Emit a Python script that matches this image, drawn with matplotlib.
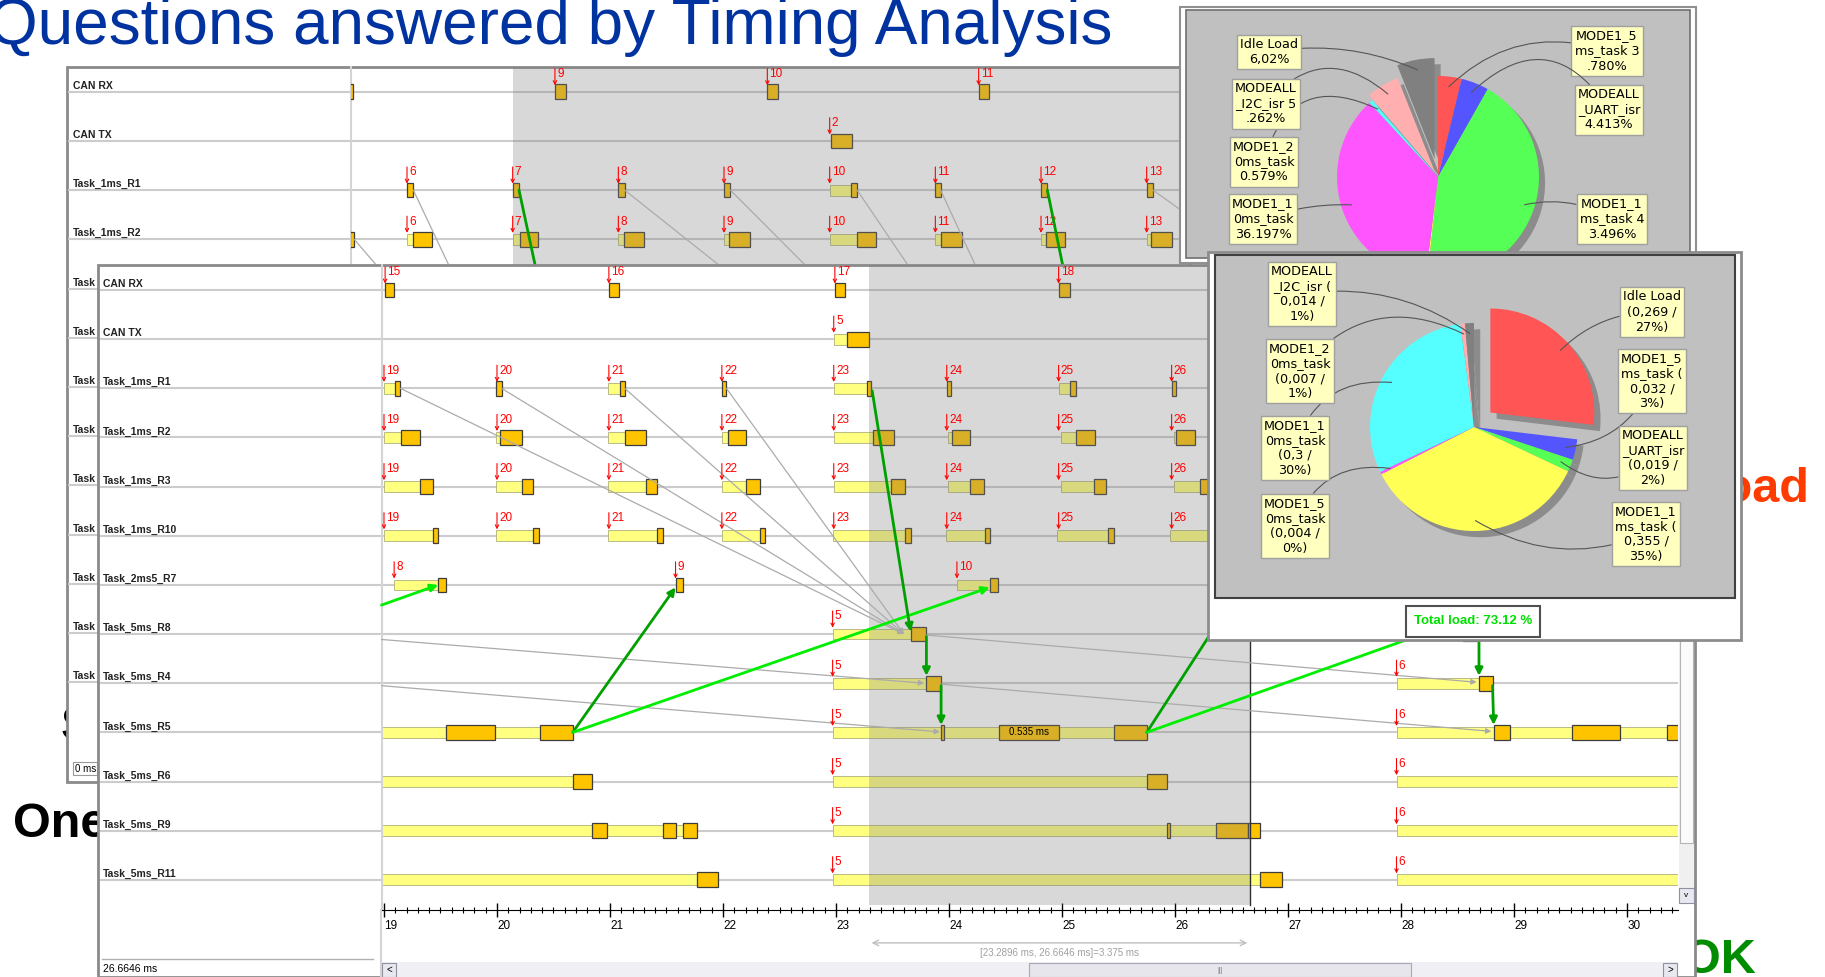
import numpy as np
import matplotlib
matplotlib.use('Agg')
import matplotlib.pyplot as plt
from matplotlib.patches import Rectangle
from matplotlib.ticker import MultipleLocator

W, H = 1825, 977
plt.rcParams['font.family'] = ['Liberation Sans', 'DejaVu Sans']

# ---------------- data ----------------
rows = ['CAN RX', 'CAN TX', 'Task_1ms_R1', 'Task_1ms_R2', 'Task_1ms_R3',
        'Task_1ms_R10', 'Task_2ms5_R7', 'Task_5ms_R8', 'Task_5ms_R4',
        'Task_5ms_R5', 'Task_5ms_R6', 'Task_5ms_R9', 'Task_5ms_R11']
# back window: only the start of the lower row names shows beside the front window
back_labels = rows[:4] + ['Task'] * 9

# front trace window, time in ms
front_ticks = list(range(19, 31))
sel_start, sel_end = 23.2896, 26.6646
act_1ms_t = [19.0, 20.0, 20.99, 21.99, 22.98, 23.98, 24.97, 25.97]
act_1ms_n = ['19', '20', '21', '22', '23', '24', '25', '26']
front_act = [(0, '15', 19.01), (0, '16', 20.99), (0, '17', 22.99), (0, '18', 24.97),
             (1, '5', 22.98),
             (6, '8', 19.09), (6, '9', 21.58), (6, '10', 24.07),
             (7, '5', 22.97), (8, '5', 22.97), (8, '6', 27.96),
             (9, '5', 22.97), (9, '6', 27.96), (10, '5', 22.97), (10, '6', 27.96),
             (11, '5', 22.97), (11, '6', 27.96), (12, '5', 22.97), (12, '6', 27.96)]
front_act += [(r, n, t) for r in (2, 3, 4, 5) for n, t in zip(act_1ms_n, act_1ms_t)]

# (row, start, end) waiting (light) and running (box) segments
front_wait = [(1, 22.98, 23.10),
              (2, 19.0, 19.10), (2, 20.98, 21.09), (2, 22.98, 23.27), (2, 24.97, 25.07),
              (3, 19.0, 19.15), (3, 19.99, 20.03), (3, 20.98, 21.13), (3, 21.99, 22.04),
              (3, 22.98, 23.33), (3, 23.99, 24.03), (3, 24.99, 25.12), (3, 25.99, 26.01),
              (4, 19.0, 19.32), (4, 19.99, 20.22), (4, 20.98, 21.32), (4, 21.99, 22.20),
              (4, 22.98, 23.49), (4, 23.99, 24.19), (4, 24.99, 25.28), (4, 25.99, 26.22),
              (5, 19.0, 19.43), (5, 19.99, 20.32), (5, 20.98, 21.42), (5, 21.99, 22.33),
              (5, 22.97, 23.61), (5, 23.97, 24.32), (5, 24.96, 25.41), (5, 25.96, 26.50),
              (6, 19.09, 19.48), (6, 24.07, 24.36), (6, 29.05, 29.35),
              (7, 22.97, 23.66), (7, 27.96, 28.55),
              (8, 22.97, 23.80), (8, 27.96, 28.69),
              (9, 18.97, 19.55), (9, 19.98, 20.38), (9, 22.97, 23.93), (9, 23.96, 24.44),
              (9, 24.97, 25.46), (9, 27.96, 28.82), (9, 28.96, 29.51), (9, 29.94, 30.35),
              (10, 18.97, 20.67), (10, 22.97, 25.75), (10, 27.96, 30.5),
              (11, 18.97, 20.84), (11, 20.97, 21.47), (11, 21.58, 21.65), (11, 22.97, 25.93),
              (11, 25.96, 26.36), (11, 27.96, 30.5),
              (12, 18.97, 21.77), (12, 22.97, 26.75), (12, 27.96, 30.5)]
front_run = [(0, 19.01, 19.09), (0, 20.99, 21.08), (0, 22.99, 23.08), (0, 24.97, 25.07),
             (1, 23.10, 23.29),
             (2, 19.10, 19.145), (2, 19.99, 20.04), (2, 21.09, 21.13), (2, 21.99, 22.03),
             (2, 23.27, 23.31), (2, 23.98, 24.02), (2, 25.07, 25.12), (2, 25.97, 26.01),
             (3, 19.15, 19.32), (3, 20.03, 20.22), (3, 21.13, 21.32), (3, 22.04, 22.20),
             (3, 23.33, 23.51), (3, 24.03, 24.19), (3, 25.12, 25.29), (3, 26.01, 26.18),
             (4, 19.32, 19.43), (4, 20.22, 20.32), (4, 21.32, 21.42), (4, 22.20, 22.33),
             (4, 23.49, 23.61), (4, 24.19, 24.31), (4, 25.28, 25.39), (4, 26.22, 26.33),
             (5, 19.43, 19.48), (5, 20.32, 20.37), (5, 21.42, 21.47), (5, 22.33, 22.37),
             (5, 23.61, 23.66), (5, 24.32, 24.36), (5, 25.41, 25.46), (5, 26.50, 26.55),
             (6, 19.48, 19.55), (6, 21.58, 21.65), (6, 24.36, 24.43), (6, 26.58, 26.65),
             (6, 29.35, 29.42),
             (7, 23.66, 23.80), (7, 28.55, 28.69),
             (8, 23.80, 23.93), (8, 28.69, 28.81),
             (9, 19.55, 19.98), (9, 20.38, 20.67), (9, 23.93, 23.96), (9, 24.44, 24.97),
             (9, 25.46, 25.75), (9, 28.82, 28.96), (9, 29.51, 29.94), (9, 30.35, 30.5),
             (10, 20.67, 20.84), (10, 25.75, 25.93),
             (11, 20.84, 20.97), (11, 21.47, 21.58), (11, 21.65, 21.77), (11, 25.93, 25.96),
             (11, 26.36, 26.65), (11, 26.65, 26.75),
             (12, 21.77, 21.96), (12, 26.75, 26.95)]
# (t0, row0, t1, row1) data-flow links
front_grey = [(19.145, 2, 23.6, 7), (20.04, 2, 23.6, 7), (21.13, 2, 23.6, 7), (22.03, 2, 23.6, 7),
              (18.978, 7.11, 23.78, 8.0), (18.978, 8.05, 23.92, 8.99),
              (23.80, 7.02, 28.67, 7.98), (23.93, 8.02, 28.80, 8.98)]
front_green = [(18.978, 6.41, 19.48, 6.0, True), (20.67, 9, 21.58, 6.05, False),
               (20.67, 9, 24.36, 6.05, True), (23.32, 2.05, 23.66, 6.95, False),
               (23.80, 7.05, 23.80, 7.85, False), (23.93, 8.05, 23.93, 8.85, False),
               (25.75, 9, 26.58, 6.05, False), (25.75, 9, 29.35, 6.05, True),
               (28.69, 7.05, 28.69, 7.85, False), (28.81, 8.05, 28.82, 8.85, False)]

# back trace window
back_act = [(0, '9', 7.40), (0, '10', 9.41), (0, '11', 11.41), (1, '2', 10.0)]
back_act += [(r, str(n), float(n)) for r in (2, 3) for n in range(6, 14)]
back_wait = [(2, 10.0, 10.20),
             (3, 6.0, 6.06), (3, 7.0, 7.07), (3, 8.0, 8.05), (3, 9.0, 9.05), (3, 10.0, 10.26),
             (3, 11.0, 11.05), (3, 12.0, 12.05), (3, 13.0, 13.04)]
back_run = [(0, 5.45, 5.49), (0, 7.40, 7.50), (0, 9.41, 9.51), (0, 11.41, 11.51),
            (1, 10.01, 10.21),
            (2, 6.0, 6.06), (2, 7.0, 7.06), (2, 8.0, 8.06), (2, 9.0, 9.06), (2, 10.20, 10.26),
            (2, 11.0, 11.05), (2, 12.0, 12.06), (2, 13.0, 13.06),
            (3, 5.46, 5.50), (3, 6.06, 6.24), (3, 7.07, 7.24), (3, 8.05, 8.24), (3, 9.05, 9.25),
            (3, 10.26, 10.44), (3, 11.05, 11.25), (3, 12.05, 12.23), (3, 13.04, 13.24)]
back_grey = [(6.06, 2, 6.50, 4), (5.50, 3, 5.90, 4), (8.06, 2, 9.23, 4), (9.06, 2, 9.99, 4),
             (10.26, 2, 10.89, 4), (11.05, 2, 11.48, 4), (13.06, 2, 14.36, 4)]
back_green = [(7.06, 2, 7.26, 4, False), (12.06, 2, 12.25, 4, False)]
back_sel = 7.0

# pie charts
pal = ['#FF5555', '#5555FF', '#55FF55', '#FFFF55', '#FF55FF', '#55FFFF', '#FFAFAF', '#808080']
pie1_pct = [3.780, 4.413, 43.496, 0.253, 36.197, 0.579, 5.262, 6.02]
pie1_txt = ['MODE1_5\nms_task 3\n.780%', 'MODEALL\n_UART_isr\n4.413%', 'MODE1_1\nms_task 4\n3.496%',
            None, 'MODE1_1\n0ms_task\n36.197%', 'MODE1_2\n0ms_task\n0.579%',
            'MODEALL\n_I2C_isr 5\n.262%', 'Idle Load\n6,02%']
pie2_val = [0.269, 0.032, 0.019, 0.355, 0.004, 0.3, 0.007, 0.014]
pie2_txt = ['Idle Load\n(0,269 /\n27%)', 'MODE1_5\nms_task (\n0,032 /\n3%)',
            'MODEALL\n_UART_isr\n(0,019 /\n2%)', 'MODE1_1\nms_task (\n0,355 /\n35%)',
            'MODE1_5\n0ms_task\n(0,004 /\n0%)', 'MODE1_1\n0ms_task\n(0,3 /\n30%)',
            'MODE1_2\n0ms_task\n(0,007 /\n1%)', 'MODEALL\n_I2C_isr (\n0,014 /\n1%)']
total_load = 73.12

# ---------------- drawing ----------------
fig = plt.figure(figsize=(W / 100, H / 100), dpi=100)


def layer(z):
    ax = fig.add_axes([0, 0, 1, 1], zorder=z)
    ax.set_xlim(0, W)
    ax.set_ylim(H, 0)
    ax.axis('off')
    return ax


def px_axes(x0, y0, x1, y1, z):
    return fig.add_axes([x0 / W, 1 - y1 / H, (x1 - x0) / W, (y1 - y0) / H], zorder=z)


def rect(ax, x0, y0, x1, y1, **kw):
    ax.add_patch(Rectangle((x0, y0), x1 - x0, y1 - y0, **kw))


def gantt(ax, labels, acts, waits, runs, greys, greens, line_x, text_x):
    ax.set_facecolor('none')
    tr = ax.get_yaxis_transform()
    ax.hlines(range(len(labels)), line_x, 1, transform=tr, colors='#cccccc', lw=1.5,
              clip_on=False, zorder=1)
    for i, name in enumerate(labels):
        ax.text(text_x, i - 0.06, name, transform=tr, fontsize=7.5, fontweight='bold',
                color='#222222', va='baseline', ha='left', clip_on=False)
    r, a, b = zip(*waits)
    ax.barh(r, np.subtract(b, a), left=a, height=0.22, color='#ffff80',
            edgecolor='#b0b07a', lw=0.6, zorder=2)
    r, a, b = zip(*runs)
    ax.barh(r, np.subtract(b, a), left=a, height=0.3, color='#ffc400',
            edgecolor='#3c3c3c', lw=0.9, zorder=3)
    for row, lab, t in acts:
        ax.annotate('', xy=(t, row - 0.13), xytext=(t, row - 0.47),
                    arrowprops=dict(arrowstyle='->', color='red', lw=0.8, shrinkA=0,
                                    shrinkB=0, mutation_scale=6), zorder=6)
        ax.text(t + 0.02, row - 0.36, lab, color='red', fontsize=8.5, va='center',
                ha='left', zorder=6)
    for t0, r0, t1, r1 in greys:
        ax.annotate('', xy=(t1, r1), xytext=(t0, r0), annotation_clip=False,
                    arrowprops=dict(arrowstyle='-|>', color='#ababab', lw=0.9, shrinkA=0,
                                    shrinkB=0, mutation_scale=8), zorder=5)
    for t0, r0, t1, r1, bright in greens:
        ax.annotate('', xy=(t1, r1), xytext=(t0, r0), annotation_clip=False,
                    arrowprops=dict(arrowstyle='-|>', color='#00ee00' if bright else '#00a000',
                                    lw=2, shrinkA=0, shrinkB=0, mutation_scale=11), zorder=7)
    ax.set_yticks([])
    for s in ('top', 'right'):
        ax.spines[s].set_visible(False)
    ax.spines['left'].set_color('#d4d4d4')
    ax.spines['left'].set_linewidth(1.5)


# base slide text
base = layer(0)
base.text(-12, 44, 'Questions answered by Timing Analysis', fontsize=46, color='#0033a0',
          va='baseline', ha='left')
base.text(61, 740, 'S', fontsize=35, fontweight='bold', va='baseline')
base.text(13, 837, 'One', fontsize=35, fontweight='bold', va='baseline')
base.text(1810, 502, 'Load', fontsize=35, fontweight='bold', color='#ff3c00',
          va='baseline', ha='right')
base.text(1683, 973, 'OK', fontsize=35, fontweight='bold', color='#008c00', va='baseline')

# back window
cb = layer(1)
rect(cb, 67, 67, 1190, 782, fc='white', ec='#8a8a8a', lw=2)
rect(cb, 73, 762, 97, 775, fc='white', ec='#9a9a9a', lw=0.8)
cb.text(75, 769, '0 ms', fontsize=7, va='center')

axb = px_axes(351, 67, 1190, 782, 2)
axb.set_xlim(5.47, 13.41)
axb.set_ylim(14.03, -0.502)
gantt(axb, back_labels, back_act, back_wait, back_run, back_grey, back_green, -0.3373, -0.3317)
axb.axvspan(back_sel, 13.41, color='#7f7f7f', alpha=0.3, lw=0, zorder=4)
axb.spines['bottom'].set_visible(False)
axb.set_xticks([])

# front window
cf = layer(3)
rect(cf, 98, 265, 1695, 977, fc='white', ec='#8a8a8a', lw=2)
cf.plot([381.5, 381.5], [910, 977], color='#d4d4d4', lw=1.5)
cf.plot([102, 373], [959, 959], color='#b0b0b0', lw=1)
cf.text(103, 969, '26.6646 ms', fontsize=7.5, va='center')
rect(cf, 1679, 265, 1694, 903, fc='#f0f0f0', ec='none')
rect(cf, 1680, 266, 1693, 843, fc='#fbfbfb', ec='#b4b4b4', lw=0.8)
rect(cf, 1679, 888, 1694, 903, fc='#e8e8f0', ec='#9090a0', lw=0.8)
cf.text(1686.5, 895.5, 'v', fontsize=6, ha='center', va='center')
rect(cf, 382, 962, 1678, 977, fc='#f0f0f4', ec='none')
rect(cf, 1029, 963, 1411, 977, fc='#e6e6ec', ec='#a8a8b8', lw=0.8)
cf.text(1220, 970, '|||', fontsize=5, ha='center', va='center', color='#808090')
rect(cf, 382, 963, 396, 977, fc='#e8e8f0', ec='#9090a0', lw=0.8)
cf.text(389, 970, '<', fontsize=7, ha='center', va='center')
rect(cf, 1663, 963, 1677, 977, fc='#e8e8f0', ec='#9090a0', lw=0.8)
cf.text(1670, 970, '>', fontsize=7, ha='center', va='center')

axf = px_axes(381.5, 265, 1678, 910, 4)
axf.set_xlim(18.978, 30.451)
axf.set_ylim(12.614, -0.509)
gantt(axf, rows, front_act, front_wait, front_run, front_grey, front_green, -0.2171, -0.2148)
axf.axvspan(sel_start, sel_end, ymin=0.008, color='#7f7f7f', alpha=0.3, lw=0, zorder=4)
axf.axvline(sel_end, ymin=0.008, color='#303030', lw=1, zorder=4)
axf.text(24.705, 9, '0.535 ms', fontsize=7, ha='center', va='center', zorder=6)
axf.set_xticks(front_ticks)
axf.set_xticklabels([str(t) for t in front_ticks], ha='left')
axf.xaxis.set_minor_locator(MultipleLocator(0.1))
axf.tick_params(axis='x', which='major', direction='inout', length=10, width=1,
                labelsize=8.5, pad=2)
axf.tick_params(axis='x', which='minor', direction='inout', length=5, width=0.8)
axf.annotate('', xy=(sel_end, -0.051), xytext=(sel_start, -0.051),
             xycoords=('data', 'axes fraction'), textcoords=('data', 'axes fraction'),
             arrowprops=dict(arrowstyle='<->', color='#c0c0c0', lw=1), annotation_clip=False)
axf.text((sel_start + sel_end) / 2, -0.066,
         f'[{sel_start} ms, {sel_end} ms]={sel_end - sel_start:.3f} ms',
         transform=axf.get_xaxis_transform(), fontsize=7, color='#a0a0a0',
         ha='center', va='center')


def pie(cx, cy, r, vals, texts, boxes, rads, explode, z):
    ax = px_axes(cx - 1.35 * r, cy - 1.35 * r, cx + 1.35 * r, cy + 1.35 * r, z)
    ax.pie(vals, explode=explode, colors=['#8c8c8c'] * len(vals), startangle=90,
           counterclock=False, center=(0.06, -0.06), wedgeprops=dict(lw=0))
    wedges, _ = ax.pie(vals, explode=explode, colors=pal, startangle=90,
                       counterclock=False, wedgeprops=dict(lw=0))
    ax.set_xlim(-1.35, 1.35)
    ax.set_ylim(-1.35, 1.35)
    for w, txt, bxy, rad in zip(wedges, texts, boxes, rads):
        if txt is None:
            continue
        ang = np.deg2rad((w.theta1 + w.theta2) / 2)
        p = (w.center[0] + 0.9 * np.cos(ang), w.center[1] + 0.9 * np.sin(ang))
        ax.annotate(txt, xy=p, xytext=bxy, textcoords=base.transData, ha='center',
                    va='center', fontsize=9.2, family='DejaVu Sans', linespacing=1.2,
                    bbox=dict(boxstyle='square,pad=0.25', fc='#ffffc0', ec='#a0a0a0', lw=1),
                    arrowprops=dict(arrowstyle='-', color='#555555', lw=0.8, shrinkA=0,
                                    shrinkB=0, connectionstyle=f'arc3,rad={rad}'),
                    annotation_clip=False)
    return ax


# top pie window
cp1 = layer(5)
rect(cp1, 1180, 7, 1696, 263, fc='white', ec='#909090', lw=1.5)
rect(cp1, 1186, 10, 1690, 258, fc='#c0c0c0', ec='#707070', lw=1.2)
pie(1438, 177, 101, pie1_pct, pie1_txt,
    [(1607, 51), (1609, 110), (1612, 219), None, (1263, 219), (1264, 162), (1266, 104), (1269, 52)],
    [0.3, 0.6, 0.2, 0, -0.1, -0.6, -0.5, -0.15],
    [0, 0, 0, 0, 0, 0, 0.06, 0.18], 6)

# front pie window
cp2 = layer(7)
rect(cp2, 1208, 252, 1741, 640, fc='white', ec='#8c8c8c', lw=2)
rect(cp2, 1215, 255, 1735, 598, fc='#c0c0c0', ec='#404040', lw=1.5)
rect(cp2, 1406, 606, 1540, 637, fc='white', ec='#505050', lw=1.5)
cp2.text(1473, 621.5, f'Total load: {total_load} %', fontsize=9.5, fontweight='bold',
         color='#00e000', ha='center', va='center')
pie(1474, 427, 104, pie2_val, pie2_txt,
    [(1652, 312), (1652, 381), (1653, 458), (1646, 534), (1295, 526), (1295, 448), (1300, 371), (1302, 294)],
    [0.2, -0.3, -0.4, -0.25, -0.4, -0.4, -0.4, -0.2],
    [0.21, 0, 0, 0, 0, 0, 0, 0], 8)

fig.savefig('out.png', dpi=100)
